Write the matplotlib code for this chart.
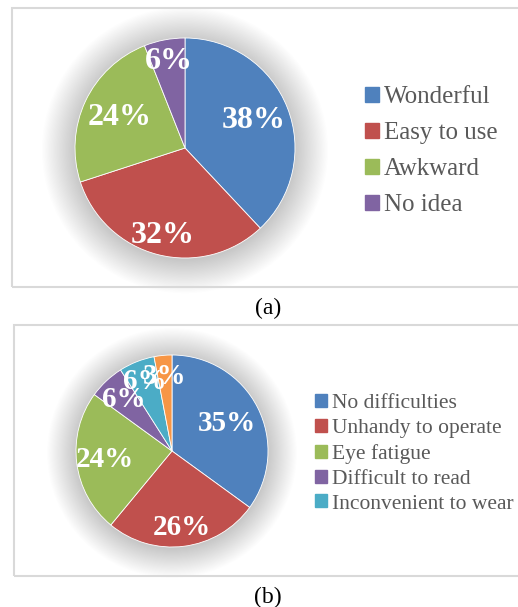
import numpy as np
import matplotlib
matplotlib.use("Agg")
import matplotlib.pyplot as plt
from matplotlib.patches import Rectangle, Circle, Patch

# panel (a)
labels_a = ["Wonderful", "Easy to use", "Awkward", "No idea"]
values_a = [38, 32, 24, 6]
colors_a = ["#4F81BD", "#C0504D", "#9BBB59", "#8064A2"]

# panel (b)
labels_b = ["No difficulties", "Unhandy to operate", "Eye fatigue",
            "Difficult to read", "Inconvenient to wear", "Other"]
values_b = [35, 26, 24, 6, 6, 3]
colors_b = ["#4F81BD", "#C0504D", "#9BBB59", "#8064A2", "#4BACC6", "#F79646"]
legend_count_b = 5  # last entry is cut off in the original legend

W, H = 518, 607
plt.rcParams["font.family"] = ["Liberation Serif", "DejaVu Serif"]
fig = plt.figure(figsize=(W / 100, H / 100), dpi=100)


def px_box(x0, y0, x1, y1):
    return [x0 / W, 1 - y1 / H, (x1 - x0) / W, (y1 - y0) / H]


def draw_pie(cx, cy, r, values, colors, pct_dist, fs):
    pad = 1.4
    ax = fig.add_axes(px_box(cx - r * pad, cy - r * pad, cx + r * pad, cy + r * pad))
    # soft shadow glow
    for k in range(28):
        ax.add_patch(Circle((0, -0.02), 1.3 - 0.011 * k, color="#808080",
                            alpha=0.014, lw=0, zorder=0))
    wedges, _ = ax.pie(values, colors=colors, startangle=90, counterclock=False,
                       radius=1, wedgeprops=dict(edgecolor="white", linewidth=0.6))
    total = sum(values)
    start = 90.0
    for v, d in zip(values, pct_dist):
        mid = np.deg2rad(start - v / total * 180)
        start -= v / total * 360
        ax.text(d * np.cos(mid), d * np.sin(mid), f"{v}%", color="white",
                fontsize=fs, fontweight="bold", ha="center", va="center", zorder=5)
    ax.set_xlim(-pad, pad)
    ax.set_ylim(-pad, pad)
    ax.set_aspect("equal")
    ax.axis("off")
    return wedges


# frames
for (x0, y0, x1, y1) in [(12, 8, 530, 287), (14, 325, 530, 576)]:
    fig.patches.append(Rectangle((x0 / W, 1 - y1 / H), (x1 - x0) / W, (y1 - y0) / H,
                                 transform=fig.transFigure, fill=False,
                                 edgecolor="#D9D9D9", linewidth=1.5))

wa = draw_pie(185, 148, 110, values_a, colors_a, [0.67, 0.82, 0.66, 0.8], 23)
wb = draw_pie(172, 451, 96, values_b, colors_b, [0.64, 0.8, 0.7, 0.74, 0.78, 0.78], 21)

fig.legend([Patch(color=c) for c in colors_a], labels_a,
           loc="upper left", bbox_to_anchor=(365 / W, 1 - 86 / H),
           frameon=False, fontsize=18, labelcolor="#595959",
           handlelength=0.55, handleheight=0.55, handletextpad=0.22,
           labelspacing=0.56, borderaxespad=0, borderpad=0)

fig.legend([Patch(color=c) for c in colors_b[:legend_count_b]], labels_b[:legend_count_b],
           loc="upper left", bbox_to_anchor=(315 / W, 1 - 394 / H),
           frameon=False, fontsize=15.5, labelcolor="#595959",
           handlelength=0.55, handleheight=0.55, handletextpad=0.25,
           labelspacing=0.27, borderaxespad=0, borderpad=0)

fig.text(268 / W, 1 - 308 / H, "(a)", ha="center", va="center", fontsize=17)
fig.text(268 / W, 1 - 597 / H, "(b)", ha="center", va="center", fontsize=17)

fig.savefig("out.png", dpi=100, facecolor="white")
